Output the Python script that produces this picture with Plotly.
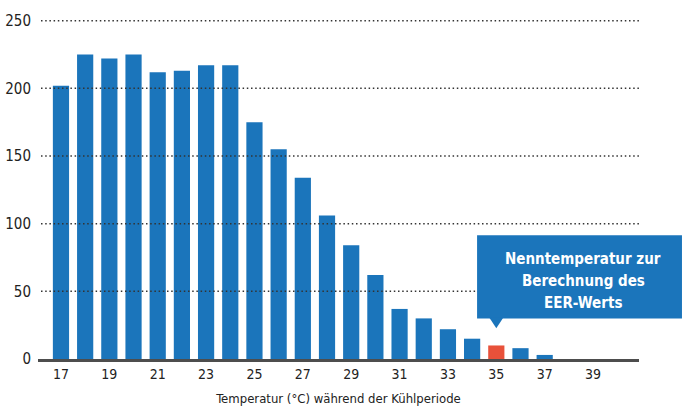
import plotly.graph_objects as go

# Hours per temperature during the cooling period
temps = list(range(17, 41))
hours = [202, 225, 222, 225, 212, 213, 217, 217, 175, 155, 134, 106,
         84, 62, 37, 30, 22, 15, 10, 8, 3, 0, 0, 0]
highlight = 35
tick_vals = list(range(17, 40, 2))
y_ticks = [0, 50, 100, 150, 200, 250]
callout_lines = ["Nenntemperatur zur", "Berechnung des", "EER-Werts"]

blue = "#1b75bb"
red = "#e8513a"
font_family = "DejaVu Sans Condensed"
x_range = [16.05, 40.9]


def to_paper(x):
    return (x - x_range[0]) / (x_range[1] - x_range[0])


colors = [red if t == highlight else blue for t in temps]

fig = go.Figure(go.Bar(x=temps, y=hours, marker_color=colors, marker_line_width=0))

# dotted grid drawn on top of the bars, like the original
for v in y_ticks[1:]:
    fig.add_shape(type="line", xref="paper", yref="y", x0=0.005, x1=1, y0=v, y1=v,
                  line=dict(color="#333", width=1.5, dash="1.5px,2.7px"), layer="above")

# callout box with pointer at the highlighted bar (paper x so it can leave the plot area)
px = to_paper(highlight)
fig.add_shape(type="rect", xref="paper", yref="y", x0=px - 0.032, x1=1.0715, y0=30, y1=91.5,
              fillcolor=blue, line_width=0, layer="above")
fig.add_shape(type="path", xref="paper", yref="y",
              path=f"M {px - 0.0115},30.5 L {px + 0.0115},30.5 L {px},22.8 Z",
              fillcolor=blue, line_width=0, layer="above")
for i, line in enumerate(callout_lines):
    fig.add_annotation(x=px + 0.145, y=73.7 - 16.3 * i, xref="paper", yref="y", text=line,
                       showarrow=False, xanchor="center", yanchor="middle",
                       font=dict(family=font_family, size=15, color="white", weight="bold"))

fig.update_layout(
    width=685, height=406,
    margin=dict(l=38, r=46, t=18, b=47),
    plot_bgcolor="white", paper_bgcolor="white",
    bargap=0.33,
    showlegend=False,
    font=dict(family=font_family, color="#222"),
    xaxis=dict(range=x_range, tickvals=tick_vals, showgrid=False, zeroline=False,
               showline=True, linecolor="#4d4d4d", linewidth=2.5, ticks="", automargin=False,
               tickfont=dict(size=14, color="#222"),
               title=dict(text="Temperatur (°C) während der Kühlperiode",
                          font=dict(size=13, color="#222"), standoff=14)),
    yaxis=dict(range=[0, 252], tickvals=y_ticks, showgrid=False, zeroline=False,
               ticks="", automargin=False,
               ticklabelstandoff=6, tickfont=dict(size=15, color="#222")),
)

# drop the default 8px body margin so the figure sits at the page corner
fig.write_html("out.html", config={"displayModeBar": False},
               post_script="document.body.style.margin='0';")
